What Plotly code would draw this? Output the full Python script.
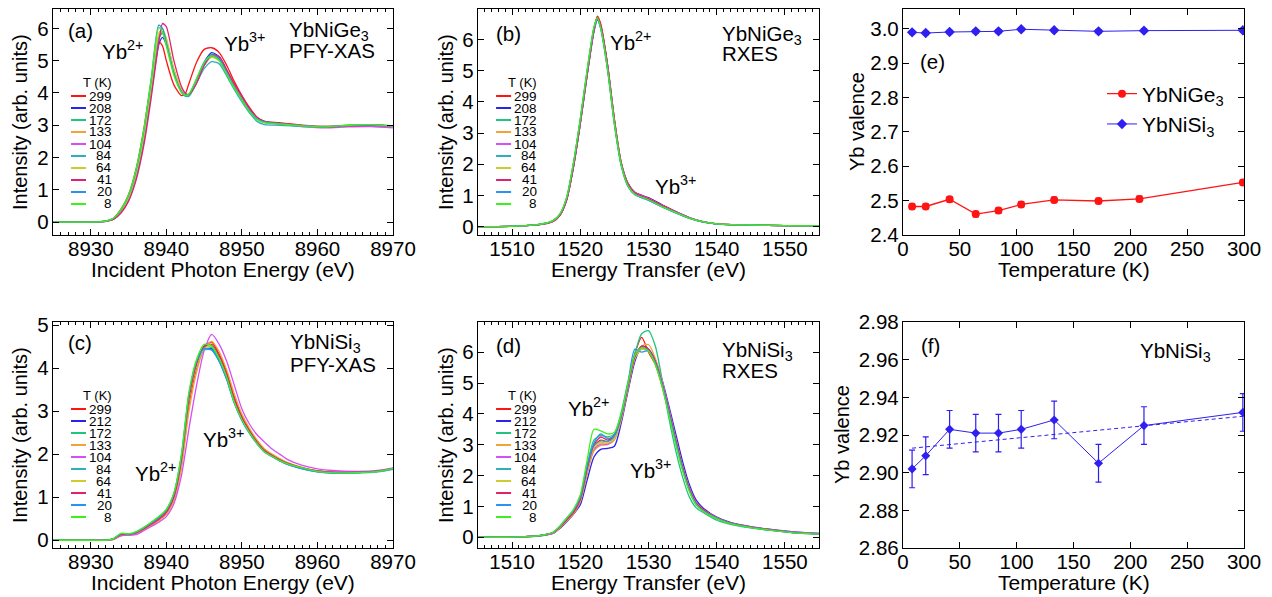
import plotly.graph_objects as go

# ---------------- data ----------------
temps_ge = [299, 208, 172, 133, 104, 84, 64, 41, 20, 8]
temps_si = [299, 212, 172, 133, 104, 84, 64, 41, 20, 8]

# (a) YbNiGe3 PFY-XAS
E_a = [8925, 8930, 8932, 8933, 8934, 8935, 8936, 8937, 8938, 8939, 8939.5, 8940, 8941, 8942, 8942.5, 8943,
       8944, 8945, 8946, 8947, 8948, 8949, 8950, 8951, 8952, 8953, 8955, 8958, 8961, 8964, 8967, 8970]
a_299 = [0, 0, 0.03, 0.12, 0.40, 0.85, 1.65, 2.85, 4.35, 5.58, 5.45, 5.00, 4.25, 3.92, 3.98, 4.30, 4.95, 5.35, 5.40, 5.25, 4.85, 4.35, 3.92, 3.55, 3.25, 3.12, 3.08, 3.00, 2.96, 2.99, 3.01, 2.97]
a_208 = [0, 0, 0.02, 0.09, 0.30, 0.68, 1.38, 2.50, 4.00, 5.50, 5.72, 5.50, 4.65, 4.05, 3.92, 3.94, 4.40, 4.95, 5.25, 5.12, 4.70, 4.25, 3.85, 3.48, 3.22, 3.10, 3.05, 2.98, 2.95, 2.99, 3.00, 2.97]
a_172 = [0, 0, 0.03, 0.10, 0.33, 0.72, 1.45, 2.58, 4.10, 5.70, 5.85, 5.58, 4.68, 4.05, 3.93, 3.95, 4.38, 4.92, 5.20, 5.08, 4.66, 4.22, 3.84, 3.47, 3.21, 3.10, 3.05, 2.98, 2.95, 3.00, 3.02, 2.98]
a_133 = [0, 0, 0.03, 0.10, 0.34, 0.74, 1.48, 2.62, 4.15, 5.75, 5.90, 5.62, 4.72, 4.08, 3.95, 3.96, 4.38, 4.88, 5.14, 5.03, 4.62, 4.20, 3.82, 3.46, 3.20, 3.09, 3.05, 2.99, 2.96, 3.00, 3.02, 2.98]
a_104 = [0, 0, 0.03, 0.10, 0.33, 0.72, 1.45, 2.60, 4.10, 5.70, 5.85, 5.60, 4.70, 4.08, 3.95, 3.95, 4.35, 4.85, 5.12, 5.02, 4.62, 4.20, 3.82, 3.45, 3.20, 3.08, 3.03, 2.96, 2.92, 2.95, 2.96, 2.92]
a_84 = [0, 0, 0.03, 0.10, 0.33, 0.73, 1.45, 2.60, 4.10, 5.70, 5.85, 5.55, 4.65, 4.02, 3.90, 3.90, 4.30, 4.75, 4.97, 4.90, 4.52, 4.10, 3.72, 3.38, 3.12, 3.02, 3.00, 2.96, 2.94, 2.98, 3.00, 2.96]
a_64 = [0, 0, 0.03, 0.10, 0.34, 0.75, 1.50, 2.65, 4.20, 5.85, 5.98, 5.70, 4.75, 4.10, 3.95, 3.95, 4.35, 4.88, 5.10, 5.00, 4.60, 4.18, 3.80, 3.45, 3.20, 3.09, 3.04, 2.98, 2.95, 2.99, 3.01, 2.97]
a_41 = [0, 0, 0.02, 0.08, 0.28, 0.65, 1.30, 2.35, 3.85, 5.55, 6.15, 6.05, 5.00, 4.20, 4.00, 3.95, 4.30, 4.85, 5.18, 5.12, 4.72, 4.28, 3.90, 3.52, 3.25, 3.12, 3.06, 2.99, 2.95, 2.98, 3.00, 2.97]
a_20 = [0, 0, 0.03, 0.12, 0.38, 0.82, 1.60, 2.80, 4.40, 6.10, 6.00, 5.55, 4.60, 4.05, 3.95, 3.97, 4.42, 4.92, 5.18, 5.05, 4.62, 4.18, 3.80, 3.45, 3.20, 3.10, 3.05, 2.99, 2.96, 2.99, 3.01, 2.98]
a_8 = [0, 0, 0.03, 0.12, 0.40, 0.85, 1.65, 2.85, 4.45, 6.02, 5.88, 5.45, 4.55, 4.02, 3.93, 3.97, 4.45, 4.95, 5.15, 5.00, 4.58, 4.15, 3.78, 3.42, 3.18, 3.08, 3.04, 2.98, 2.95, 3.00, 3.02, 2.97]

# (b) YbNiGe3 RXES
E_b = [1505, 1510, 1514, 1516, 1517, 1518, 1519, 1520, 1521, 1522, 1522.5, 1523, 1524, 1525, 1526, 1527, 1528,
       1530, 1532, 1534, 1536, 1538, 1540, 1545, 1550, 1555]
b_299 = [0.0, 0.01, 0.06, 0.16, 0.35, 0.85, 1.90, 3.30, 4.85, 6.30, 6.75, 6.50, 5.20, 3.45, 2.05, 1.38, 1.10, 0.92, 0.70, 0.48, 0.28, 0.15, 0.09, 0.05, 0.03, 0.02]
b_208 = [0.0, 0.01, 0.06, 0.17, 0.36, 0.86, 1.92, 3.30, 4.85, 6.25, 6.62, 6.42, 5.18, 3.42, 2.05, 1.38, 1.10, 0.92, 0.69, 0.48, 0.29, 0.16, 0.09, 0.05, 0.03, 0.02]
b_172 = [0.0, 0.01, 0.07, 0.18, 0.38, 0.90, 2.00, 3.40, 4.95, 6.35, 6.70, 6.40, 5.10, 3.35, 2.00, 1.33, 1.06, 0.87, 0.65, 0.45, 0.27, 0.15, 0.09, 0.05, 0.03, 0.02]
b_133 = [0.0, 0.01, 0.07, 0.18, 0.37, 0.88, 1.97, 3.37, 4.92, 6.32, 6.68, 6.40, 5.12, 3.38, 2.02, 1.35, 1.08, 0.89, 0.67, 0.46, 0.28, 0.15, 0.09, 0.05, 0.03, 0.02]
b_104 = [0.0, 0.01, 0.07, 0.18, 0.37, 0.88, 1.96, 3.36, 4.90, 6.30, 6.66, 6.38, 5.10, 3.37, 2.02, 1.36, 1.09, 0.90, 0.68, 0.47, 0.28, 0.15, 0.09, 0.05, 0.03, 0.02]
b_84 = [0.0, 0.01, 0.07, 0.19, 0.39, 0.92, 2.02, 3.42, 4.97, 6.36, 6.68, 6.36, 5.05, 3.30, 1.97, 1.30, 1.03, 0.85, 0.63, 0.44, 0.27, 0.15, 0.09, 0.05, 0.03, 0.02]
b_64 = [0.0, 0.01, 0.07, 0.18, 0.38, 0.90, 1.99, 3.39, 4.94, 6.34, 6.69, 6.39, 5.10, 3.36, 2.01, 1.34, 1.07, 0.88, 0.66, 0.46, 0.28, 0.15, 0.09, 0.05, 0.03, 0.02]
b_41 = [0.0, 0.01, 0.06, 0.17, 0.36, 0.86, 1.93, 3.33, 4.88, 6.30, 6.72, 6.45, 5.15, 3.40, 2.03, 1.36, 1.08, 0.89, 0.67, 0.46, 0.28, 0.15, 0.09, 0.05, 0.03, 0.02]
b_20 = [0.0, 0.01, 0.07, 0.19, 0.40, 0.93, 2.04, 3.45, 5.00, 6.38, 6.66, 6.34, 5.02, 3.28, 1.95, 1.28, 1.02, 0.84, 0.63, 0.44, 0.26, 0.14, 0.08, 0.05, 0.03, 0.02]
b_8 = [0.0, 0.01, 0.07, 0.19, 0.40, 0.94, 2.05, 3.46, 5.02, 6.40, 6.70, 6.36, 5.04, 3.30, 1.97, 1.30, 1.04, 0.86, 0.64, 0.45, 0.27, 0.15, 0.09, 0.05, 0.03, 0.02]

# (c) YbNiSi3 PFY-XAS
E_c = [8925, 8930, 8932, 8933, 8934, 8935, 8936, 8937, 8938, 8939, 8940, 8941, 8942, 8943, 8944, 8945, 8946,
       8947, 8948, 8949, 8950, 8951, 8952, 8953, 8954, 8955, 8956, 8958, 8960, 8962, 8965, 8968, 8970]
c_299 = [0, 0, 0.0, 0.02, 0.12, 0.12, 0.16, 0.25, 0.35, 0.47, 0.62, 0.95, 1.75, 3.15, 4.00, 4.50, 4.60, 4.32, 3.90, 3.32, 2.88, 2.56, 2.30, 2.10, 1.98, 1.88, 1.80, 1.68, 1.61, 1.58, 1.58, 1.60, 1.66]
c_212 = [0, 0, 0.0, 0.03, 0.14, 0.13, 0.18, 0.28, 0.39, 0.51, 0.67, 1.03, 1.90, 3.32, 4.08, 4.43, 4.45, 4.20, 3.78, 3.23, 2.82, 2.52, 2.27, 2.07, 1.96, 1.86, 1.78, 1.67, 1.60, 1.57, 1.57, 1.60, 1.66]
c_172 = [0, 0, 0.0, 0.03, 0.15, 0.14, 0.19, 0.29, 0.41, 0.54, 0.71, 1.08, 1.97, 3.40, 4.15, 4.50, 4.48, 4.18, 3.75, 3.20, 2.80, 2.50, 2.25, 2.05, 1.95, 1.85, 1.77, 1.67, 1.60, 1.57, 1.57, 1.60, 1.66]
c_133 = [0, 0, 0.0, 0.02, 0.11, 0.12, 0.15, 0.24, 0.34, 0.45, 0.60, 0.92, 1.68, 3.00, 3.90, 4.45, 4.62, 4.38, 3.95, 3.40, 2.93, 2.60, 2.33, 2.12, 2.00, 1.90, 1.81, 1.69, 1.61, 1.58, 1.58, 1.60, 1.66]
c_104 = [0, 0, 0.0, 0.02, 0.10, 0.12, 0.13, 0.22, 0.32, 0.42, 0.55, 0.85, 1.50, 2.60, 3.60, 4.40, 4.78, 4.55, 4.15, 3.60, 3.05, 2.70, 2.45, 2.28, 2.12, 2.00, 1.88, 1.74, 1.66, 1.62, 1.60, 1.62, 1.68]
c_84 = [0, 0, 0.0, 0.03, 0.14, 0.13, 0.18, 0.27, 0.38, 0.50, 0.66, 1.02, 1.88, 3.30, 4.05, 4.42, 4.42, 4.16, 3.74, 3.20, 2.80, 2.50, 2.25, 2.06, 1.95, 1.85, 1.77, 1.66, 1.59, 1.56, 1.56, 1.59, 1.65]
c_64 = [0, 0, 0.0, 0.03, 0.13, 0.13, 0.17, 0.26, 0.37, 0.49, 0.64, 0.98, 1.80, 3.25, 4.05, 4.45, 4.52, 4.26, 3.83, 3.27, 2.84, 2.53, 2.27, 2.07, 1.96, 1.86, 1.78, 1.67, 1.60, 1.57, 1.57, 1.60, 1.66]
c_41 = [0, 0, 0.0, 0.03, 0.13, 0.13, 0.17, 0.26, 0.37, 0.49, 0.65, 1.00, 1.85, 3.30, 4.10, 4.50, 4.55, 4.28, 3.85, 3.28, 2.85, 2.54, 2.28, 2.08, 1.97, 1.87, 1.79, 1.68, 1.61, 1.58, 1.58, 1.61, 1.67]
c_20 = [0, 0, 0.0, 0.04, 0.15, 0.14, 0.19, 0.29, 0.40, 0.53, 0.70, 1.08, 1.95, 3.40, 4.15, 4.45, 4.42, 4.15, 3.72, 3.18, 2.78, 2.48, 2.24, 2.05, 1.94, 1.84, 1.76, 1.66, 1.59, 1.56, 1.57, 1.60, 1.66]
c_8 = [0, 0, 0.0, 0.04, 0.16, 0.15, 0.20, 0.30, 0.42, 0.55, 0.72, 1.10, 2.00, 3.45, 4.20, 4.55, 4.52, 4.22, 3.78, 3.20, 2.80, 2.50, 2.25, 2.05, 1.95, 1.85, 1.78, 1.68, 1.60, 1.57, 1.57, 1.60, 1.67]

# (d) YbNiSi3 RXES
E_d = [1505, 1510, 1514, 1516, 1517, 1518, 1519, 1520, 1521, 1522, 1523, 1524, 1525, 1526, 1527, 1528, 1529,
       1530, 1531, 1532, 1533, 1534, 1535, 1536, 1537, 1538, 1540, 1542, 1545, 1548, 1551, 1555]
d_299 = [0.0, 0.0, 0.05, 0.15, 0.32, 0.55, 0.75, 1.15, 2.10, 2.95, 3.15, 3.10, 3.30, 3.90, 4.95, 5.95, 6.48, 6.00, 5.60, 4.90, 4.00, 3.10, 2.25, 1.55, 1.10, 0.90, 0.62, 0.46, 0.33, 0.24, 0.16, 0.11]
d_212 = [0.0, 0.0, 0.04, 0.12, 0.28, 0.50, 0.75, 1.05, 1.85, 2.60, 2.85, 2.88, 2.95, 3.70, 4.75, 5.70, 6.20, 6.10, 5.75, 5.10, 4.25, 3.35, 2.45, 1.70, 1.20, 0.95, 0.65, 0.48, 0.34, 0.25, 0.18, 0.12]
d_172 = [0.0, 0.0, 0.05, 0.15, 0.34, 0.58, 0.82, 1.30, 2.35, 3.15, 3.30, 3.25, 3.35, 4.05, 5.05, 5.95, 6.60, 6.70, 6.20, 5.10, 3.85, 2.80, 1.95, 1.30, 0.95, 0.80, 0.55, 0.42, 0.30, 0.22, 0.15, 0.10]
d_133 = [0.0, 0.0, 0.05, 0.14, 0.30, 0.52, 0.76, 1.15, 2.05, 2.80, 2.98, 3.00, 3.15, 3.80, 4.85, 5.80, 6.20, 6.25, 5.80, 5.05, 4.15, 3.20, 2.30, 1.60, 1.12, 0.90, 0.63, 0.46, 0.33, 0.24, 0.16, 0.11]
d_104 = [0.0, 0.0, 0.05, 0.14, 0.31, 0.54, 0.78, 1.18, 2.10, 2.85, 3.02, 3.02, 3.20, 3.85, 4.85, 5.80, 6.10, 6.05, 5.70, 5.00, 4.10, 3.15, 2.28, 1.58, 1.12, 0.90, 0.63, 0.46, 0.33, 0.24, 0.17, 0.12]
d_84 = [0.0, 0.0, 0.05, 0.15, 0.32, 0.55, 0.80, 1.20, 2.15, 2.95, 3.12, 3.10, 3.25, 3.90, 4.90, 5.85, 6.15, 6.05, 5.65, 4.95, 4.05, 3.12, 2.25, 1.55, 1.10, 0.88, 0.62, 0.45, 0.32, 0.23, 0.16, 0.11]
d_64 = [0.0, 0.0, 0.05, 0.14, 0.31, 0.54, 0.78, 1.18, 2.10, 2.90, 3.08, 3.05, 3.20, 3.85, 4.85, 5.80, 6.10, 6.02, 5.62, 4.92, 4.02, 3.10, 2.22, 1.52, 1.08, 0.87, 0.61, 0.45, 0.32, 0.23, 0.16, 0.11]
d_41 = [0.0, 0.0, 0.05, 0.15, 0.33, 0.56, 0.80, 1.22, 2.20, 3.00, 3.25, 3.15, 3.30, 3.90, 4.90, 5.85, 6.20, 6.10, 5.70, 4.98, 4.08, 3.15, 2.27, 1.56, 1.10, 0.89, 0.62, 0.46, 0.33, 0.24, 0.16, 0.11]
d_20 = [0.0, 0.0, 0.05, 0.16, 0.36, 0.62, 0.88, 1.30, 2.30, 3.05, 3.35, 3.20, 3.30, 3.95, 5.00, 6.10, 6.00, 6.05, 5.65, 4.95, 4.02, 3.08, 2.20, 1.50, 1.05, 0.85, 0.60, 0.44, 0.31, 0.22, 0.15, 0.10]
d_8 = [0.0, 0.0, 0.05, 0.16, 0.36, 0.62, 0.90, 1.38, 2.50, 3.50, 3.45, 3.35, 3.40, 4.00, 5.00, 5.90, 6.15, 6.05, 5.60, 4.88, 3.95, 3.00, 2.15, 1.48, 1.05, 0.85, 0.60, 0.44, 0.31, 0.22, 0.15, 0.10]

# (e) valence vs temperature
T_ge = [8, 20, 41, 64, 84, 104, 133, 172, 208, 299]
val_ge = [2.483, 2.483, 2.504, 2.461, 2.471, 2.489, 2.502, 2.499, 2.505, 2.553]
err_ge = [0.008, 0.008, 0.008, 0.008, 0.008, 0.008, 0.008, 0.008, 0.008, 0.008]
T_si = [8, 20, 41, 64, 84, 104, 133, 172, 212, 299]
val_si_e = [2.990, 2.988, 2.991, 2.993, 2.993, 2.999, 2.996, 2.993, 2.995, 2.996]
err_si_e = [0.005, 0.005, 0.005, 0.005, 0.005, 0.005, 0.005, 0.005, 0.005, 0.005]

# (f) YbNiSi3 valence (RXES)
val_si_f = [2.902, 2.909, 2.923, 2.921, 2.921, 2.923, 2.928, 2.905, 2.925, 2.932]
err_si_f = [0.010, 0.010, 0.010, 0.010, 0.010, 0.010, 0.010, 0.010, 0.010, 0.010]
fit_T = [8, 300]
fit_val = [2.913, 2.930]

# ---------------- style ----------------
colors = ['#ff1414', '#2b22ee', '#20c47c', '#f2a236', '#d64ef5', '#2eb0bb', '#cccc2a', '#e2206c', '#2a92f2', '#3cf01a']
RED = '#ff1414'
BLUE = '#2f1ff0'
FONT = 'Liberation Sans, Arial, Helvetica, sans-serif'
OFF = 8                      # page body margin in the browser
W, H = 1272 - OFF, 597 - OFF  # figure size


def fx(px):
    return (px - OFF) / W


def fy(py):
    return 1 - (py - OFF) / H


fig = go.Figure()

spec_sets = [
    ('x', 'y', E_a, [a_299, a_208, a_172, a_133, a_104, a_84, a_64, a_41, a_20, a_8], temps_ge),
    ('x2', 'y2', E_b, [b_299, b_208, b_172, b_133, b_104, b_84, b_64, b_41, b_20, b_8], temps_ge),
    ('x4', 'y4', E_c, [c_299, c_212, c_172, c_133, c_104, c_84, c_64, c_41, c_20, c_8], temps_si),
    ('x5', 'y5', E_d, [d_299, d_212, d_172, d_133, d_104, d_84, d_64, d_41, d_20, d_8], temps_si),
]
for xa, ya, E, curves, temps in spec_sets:
    for t, ys, c in zip(temps, curves, colors):
        fig.add_trace(go.Scatter(x=E, y=ys, xaxis=xa, yaxis=ya, mode='lines', name=f'{t} K',
                                 line=dict(color=c, width=1.3, shape='spline', smoothing=0.7),
                                 showlegend=False))

# (e)
fig.add_trace(go.Scatter(x=T_ge, y=val_ge, xaxis='x3', yaxis='y3', mode='lines+markers',
                         name='YbNiGe<sub>3</sub>',
                         line=dict(color=RED, width=1.3), marker=dict(symbol='circle', size=8, color=RED),
                         error_y=dict(type='data', array=err_ge, color=RED, thickness=1.2, width=3)))
fig.add_trace(go.Scatter(x=T_si, y=val_si_e, xaxis='x3', yaxis='y3', mode='lines+markers',
                         name='YbNiSi<sub>3</sub>',
                         line=dict(color=BLUE, width=1.0), marker=dict(symbol='diamond', size=8, color=BLUE),
                         error_y=dict(type='data', array=err_si_e, color=BLUE, thickness=1.2, width=3)))
# (f)
fig.add_trace(go.Scatter(x=fit_T, y=fit_val, xaxis='x6', yaxis='y6', mode='lines', showlegend=False,
                         line=dict(color=BLUE, width=1.0, dash='4px,3px')))
fig.add_trace(go.Scatter(x=T_si, y=val_si_f, xaxis='x6', yaxis='y6', mode='lines+markers', showlegend=False,
                         line=dict(color=BLUE, width=1.0), marker=dict(symbol='diamond', size=7, color=BLUE),
                         error_y=dict(type='data', array=err_si_f, color=BLUE, thickness=1.2, width=3)))

# ---------------- layout ----------------
colx = [(53, 393), (478, 819), (903, 1244)]
rowy = [(9, 235), (322, 548)]


def dom_x(c):
    return [fx(colx[c][0]), fx(colx[c][1])]


def dom_y(r):
    return [fy(rowy[r][1]), fy(rowy[r][0])]


def axis(domain, anchor, rng, dtick, tick0, minor=None, fmt=None, xax=False):
    d = dict(domain=domain, anchor=anchor, range=rng, dtick=dtick, tick0=tick0, automargin=False,
             showline=True, linecolor='black', linewidth=1.3, mirror='ticks',
             ticks='inside', ticklen=6, tickwidth=1.2, tickcolor='black',
             showgrid=False, zeroline=False, tickfont=dict(size=20.5, color='black', family=FONT))
    if xax:
        d['ticklabelstandoff'] = -5
    else:
        d['ticklabelstandoff'] = -1
    if minor:
        d['minor'] = dict(dtick=minor, ticklen=3, tickwidth=1, ticks='inside', tickcolor='black', showgrid=False)
    if fmt:
        d['tickformat'] = fmt
    return d


layout = dict(
    width=W, height=H, margin=dict(l=0, r=0, t=0, b=0, pad=0),
    paper_bgcolor='white', plot_bgcolor='white',
    font=dict(family=FONT, color='black', size=20.5),
    xaxis=axis(dom_x(0), 'y', [8925, 8970], 10, 8930, minor=1, xax=True),
    yaxis=axis(dom_y(0), 'x', [-0.4, 6.6], 1, 0),
    xaxis2=axis(dom_x(1), 'y2', [1505, 1555], 10, 1510, minor=1, xax=True),
    yaxis2=axis(dom_y(0), 'x2', [-0.27, 6.98], 1, 0),
    xaxis3=axis(dom_x(2), 'y3', [0, 300], 50, 0, xax=True),
    yaxis3=axis(dom_y(0), 'x3', [2.4, 3.058], 0.1, 2.4, fmt='.1f'),
    xaxis4=axis(dom_x(0), 'y4', [8925, 8970], 10, 8930, minor=1, xax=True),
    yaxis4=axis(dom_y(1), 'x4', [-0.18, 5.07], 1, 0),
    xaxis5=axis(dom_x(1), 'y5', [1505, 1555], 10, 1510, minor=1, xax=True),
    yaxis5=axis(dom_y(1), 'x5', [-0.35, 6.98], 1, 0),
    xaxis6=axis(dom_x(2), 'y6', [0, 300], 50, 0, xax=True),
    yaxis6=axis(dom_y(1), 'x6', [2.86, 2.98], 0.02, 2.86, fmt='.2f'),
    legend=dict(x=fx(1102), y=fy(109), xanchor='left', yanchor='middle',
                bgcolor='rgba(0,0,0,0)', font=dict(size=21, family=FONT, color='black'),
                itemwidth=30, tracegroupgap=0),
)

annotations = []
shapes = []


def label(text, x, y, xanchor='center', size=20.5, angle=0):
    annotations.append(dict(text=text, x=fx(x), y=fy(y), xref='paper', yref='paper', showarrow=False,
                            xanchor=xanchor, yanchor='middle', textangle=angle,
                            font=dict(size=size, family=FONT, color='black')))


# axis titles
val_title_off = [46, 61]
for r in range(2):
    yc = (rowy[r][0] + rowy[r][1]) / 2
    xb = rowy[r][1] + 34
    label('Intensity (arb. units)', colx[0][0] - 33, yc, angle=-90, size=20)
    label('Intensity (arb. units)', colx[1][0] - 32, yc, angle=-90, size=20)
    label('Yb valence', colx[2][0] - val_title_off[r], yc, angle=-90, size=20)
    label('Incident Photon Energy (eV)', (colx[0][0] + colx[0][1]) / 2, xb, size=21)
    label('Energy Transfer (eV)', (colx[1][0] + colx[1][1]) / 2, xb, size=21)
    label('Temperature (K)', (colx[2][0] + colx[2][1]) / 2, xb, size=21)

# panel texts
label('(a)', 80, 30)
label('YbNiGe<sub>3</sub>', 287, 31, xanchor='left')
label('PFY-XAS', 287, 50, xanchor='left')
label('Yb<sup>2+</sup>', 122, 50)
label('Yb<sup>3+</sup>', 244, 42)

label('(b)', 508, 34)
label('YbNiGe<sub>3</sub>', 720, 35, xanchor='left')
label('RXES', 720, 54, xanchor='left')
label('Yb<sup>2+</sup>', 630, 41)
label('Yb<sup>3+</sup>', 675, 185)

label('(e)', 932, 62)

label('(c)', 80, 342)
label('YbNiSi<sub>3</sub>', 288, 343, xanchor='left')
label('PFY-XAS', 288, 364, xanchor='left')
label('Yb<sup>2+</sup>', 155, 472)
label('Yb<sup>3+</sup>', 223, 438)

label('(d)', 508, 345)
label('YbNiSi<sub>3</sub>', 720, 351, xanchor='left')
label('RXES', 720, 370, xanchor='left')
label('Yb<sup>2+</sup>', 588, 407)
label('Yb<sup>3+</sup>', 650, 469)

label('(f)', 930, 345)
label('YbNiSi<sub>3</sub>', 1138, 352, xanchor='left')


# temperature legends inside spectral panels
def t_legend(xa, ya, temps):
    xr = xa + ' domain'
    yr = ya + ' domain'
    ph = 226.0
    annotations.append(dict(text='T (K)', xref=xr, yref=yr, x=0.13, y=1 - 73 / ph, showarrow=False,
                            xanchor='center', yanchor='middle', font=dict(size=13, family=FONT, color='black')))
    for i, (t, c) in enumerate(zip(temps, colors)):
        yy = 1 - (87 + 12 * i) / ph
        shapes.append(dict(type='line', xref=xr, yref=yr, x0=0.053, x1=0.097, y0=yy, y1=yy,
                           line=dict(color=c, width=2)))
        annotations.append(dict(text=str(t), xref=xr, yref=yr, x=0.179, y=yy, showarrow=False,
                                xanchor='right', yanchor='middle',
                                font=dict(size=13.5, family=FONT, color='black')))


t_legend('x', 'y', temps_ge)
t_legend('x2', 'y2', temps_ge)
t_legend('x4', 'y4', temps_si)
t_legend('x5', 'y5', temps_si)

layout['annotations'] = annotations
layout['shapes'] = shapes
fig.update_layout(**layout)

fig.write_html('out.html')
